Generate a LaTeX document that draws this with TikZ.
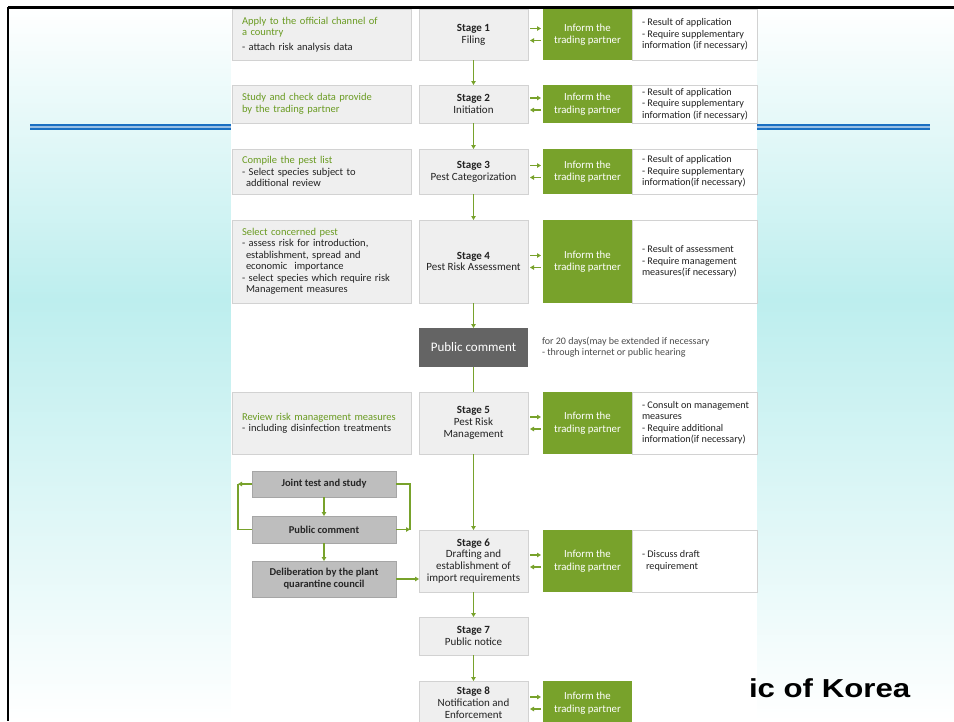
\documentclass[tikz,border=0pt]{standalone}
\usepackage{fontspec}
\setmainfont{Carlito}
\newfontfamily\arialb{Liberation Sans}
\usetikzlibrary{arrows.meta}
\definecolor{grn}{HTML}{78A22B}
\definecolor{grntxt}{HTML}{6A9B22}
\definecolor{boxfill}{HTML}{EFEFEF}
\definecolor{boxline}{HTML}{D2D2D2}
\definecolor{dkbox}{HTML}{BEBEBE}
\definecolor{dkline}{HTML}{A6A6A6}
\definecolor{pcbox}{HTML}{646464}
\definecolor{txt}{HTML}{222222}
\definecolor{skyc}{HTML}{BDEEEE}
\definecolor{blueln}{HTML}{1A6FC2}
\newcommand\gr[1]{{\color{grntxt}#1}}
\begin{document}
\begin{tikzpicture}[x=1pt,y=-1pt,
  every node/.style={inner sep=0pt, outer sep=0pt, font=\fontsize{10.5}{11.5}\selectfont, text=txt},
  lbox/.style={draw=boxline, fill=boxfill, line width=0.8pt, minimum width=179pt, text width=159pt, align=left},
  sbox/.style={draw=boxline, fill=boxfill, line width=0.8pt, minimum width=109pt, align=center, font=\fontsize{11}{11.8}\selectfont},
  gbox/.style={fill=grn, minimum width=89pt, align=center, text=white, font=\fontsize{10.8}{12.5}\selectfont},
  wbox/.style={draw=boxline, fill=white, line width=0.8pt, minimum width=125pt},
  wtxt/.style={anchor=west, align=left, font=\fontsize{10.2}{11.5}\selectfont},
  dbox/.style={draw=dkline, fill=dkbox, line width=0.8pt, minimum width=144pt, align=center, font=\bfseries\fontsize{10.5}{12}\selectfont, text=black!85},
  conn/.style={draw=grn, line width=1.1pt, -{Triangle[length=4pt,width=4.5pt]}},
  plain/.style={draw=grn, line width=1.1pt}
]
\clip (0,0) rectangle (954,721);
\fill[white] (0,0) rectangle (954,721);
% slide background
\shade[top color=white, bottom color=skyc] (8,8) rectangle (954,300);
\shade[top color=skyc, bottom color=white] (8,299.5) rectangle (954,721);
\draw[blueln, double=blueln!45, double distance=2pt, line width=2pt] (30,126.5) -- (930,126.5);
% panel
\fill[white] (231,0) rectangle (757,721);
% title fragment
\node[anchor=base west, font=\arialb\bfseries\fontsize{26}{28}\selectfont, text=black, xscale=1.2] (kor) at (749,697) {ic of Korea};

% left boxes
\node[lbox, minimum height=51pt] (l1) at (321.5,34.5) {\gr{Apply to the official channel of}\\\gr{a country}\\[3pt]- attach risk analysis data};
\node[lbox, minimum height=38pt] (l2) at (321.5,104) {\gr{Study and check data provide}\\\gr{by the trading partner}};
\node[lbox, minimum height=45pt] (l3) at (321.5,171.5) {\gr{Compile the pest list}\\- Select species subject to\\\hspace*{4pt}additional review};
\node[lbox, minimum height=83pt] (l4) at (321.5,261.5) {\gr{Select concerned pest}\\- assess risk for introduction,\\\hspace*{4pt}establishment, spread and\\\hspace*{4pt}economic\ \ importance\\- select species which require risk\\\hspace*{4pt}Management measures};
\node[lbox, minimum height=62pt] (l5) at (321.5,423) {\gr{Review risk management measures}\\- including disinfection treatments};

% stages
\node[sbox, minimum height=51pt] (s1) at (473.5,34.5) {\textbf{Stage 1}\\Filing};
\node[sbox, minimum height=38pt] (s2) at (473.5,104) {\textbf{Stage 2}\\Initiation};
\node[sbox, minimum height=45pt] (s3) at (473.5,171.5) {\textbf{Stage 3}\\Pest Categorization};
\node[sbox, minimum height=83pt] (s4) at (473.5,261.5) {\textbf{Stage 4}\\Pest Risk Assessment};
\node[fill=pcbox, minimum width=109pt, minimum height=39pt, text=white, font=\fontsize{13}{14}\selectfont] (pc) at (473.5,347.5) {Public comment};
\node[sbox, minimum height=62pt] (s5) at (473.5,423) {\textbf{Stage 5}\\Pest Risk\\Management};
\node[sbox, minimum height=62pt] (s6) at (473.5,561) {\textbf{Stage 6}\\Drafting and\\establishment of\\import requirements};
\node[sbox, minimum height=38pt] (s7) at (473.5,636) {\textbf{Stage 7}\\Public notice};
\node[sbox, minimum height=44pt] (s8) at (473.5,703) {\textbf{Stage 8}\\Notification and\\Enforcement};

% public comment note
\node[anchor=north west, align=left, text=black!70, font=\fontsize{10}{11}\selectfont] (pcn) at (542,337) {for 20 days(may be extended if necessary\\- through internet or public hearing};

% green boxes
\node[gbox, minimum height=51pt] (g1) at (587.5,34.5) {Inform the\\trading partner};
\node[gbox, minimum height=38pt] (g2) at (587.5,104) {Inform the\\trading partner};
\node[gbox, minimum height=45pt] (g3) at (587.5,171.5) {Inform the\\trading partner};
\node[gbox, minimum height=83pt] (g4) at (587.5,261.5) {Inform the\\trading partner};
\node[gbox, minimum height=62pt] (g5) at (587.5,423) {Inform the\\trading partner};
\node[gbox, minimum height=62pt] (g6) at (587.5,561) {Inform the\\trading partner};
\node[gbox, minimum height=44pt] (g8) at (587.5,703) {Inform the\\trading partner};

% white boxes
\node[wbox, minimum height=51pt] (w1) at (694.5,34.5) {};
\node[wbox, minimum height=38pt] (w2) at (694.5,104) {};
\node[wbox, minimum height=45pt] (w3) at (694.5,171.5) {};
\node[wbox, minimum height=83pt] (w4) at (694.5,261.5) {};
\node[wbox, minimum height=62pt] (w5) at (694.5,423) {};
\node[wbox, minimum height=62pt] (w6) at (694.5,561) {};
\node[wtxt] (w1t) at ([xshift=10pt]w1.west) {- Result of application\\- Require supplementary\\information (if necessary)};
\node[wtxt] (w2t) at ([xshift=10pt]w2.west) {- Result of application\\- Require supplementary\\information (if necessary)};
\node[wtxt] (w3t) at ([xshift=10pt]w3.west) {- Result of application\\- Require supplementary\\information(if necessary)};
\node[wtxt] (w4t) at ([xshift=10pt]w4.west) {- Result of assessment\\- Require management\\measures(if necessary)};
\node[wtxt] (w5t) at ([xshift=10pt]w5.west) {- Consult on management\\measures\\- Require additional\\information(if necessary)};
\node[wtxt] (w6t) at ([xshift=10pt]w6.west) {- Discuss draft\\\hspace*{4pt}requirement};

% bottom-left group
\node[dbox, minimum height=26pt] (jt) at (324,484) {Joint test and study};
\node[dbox, minimum height=27pt] (pc2) at (324,529.5) {Public comment};
\node[dbox, minimum height=36pt] (dl) at (324,579) {Deliberation by the plant\\quarantine council};

% vertical flow
\draw[conn] (s1) -- (s2);
\draw[conn] (s2) -- (s3);
\draw[conn] (s3) -- (s4);
\draw[conn] (s4) -- (pc);
\draw[plain] (pc) -- (s5);
\draw[conn] (s5) -- (s6);
\draw[conn] (s6) -- (s7);
\draw[conn] (s7) -- (s8);

% stage <-> inform arrows
\foreach \s/\g in {s1/g1,s2/g2,s3/g3,s4/g4,s5/g5,s6/g6,s8/g8}{
  \draw[conn, shorten <=2pt, shorten >=2pt] ([yshift=6pt]\s.east) -- ([yshift=6pt]\g.west);
  \draw[conn, shorten <=2pt, shorten >=2pt] ([yshift=-6pt]\g.west) -- ([yshift=-6pt]\s.east);
}

% bottom-left connectors
\coordinate (lc) at (238,484);
\coordinate (rc) at (410,529.5);
\draw[conn] (jt) -- (pc2);
\draw[conn] (pc2) -- (dl);
\draw[plain] (lc) |- (pc2.west);
\draw[conn] (jt.west) -- (lc);
\draw[plain] (rc) |- (jt.east);
\draw[conn] (pc2.east) -- (rc);
\draw[conn] (dl.east) -- (s6.west |- dl.east);

% slide border
\draw[black, line width=3pt] (8,7) -- (954,7);
\draw[black, line width=2.5pt] (8,7) -- (8,721);
\end{tikzpicture}
\end{document}
